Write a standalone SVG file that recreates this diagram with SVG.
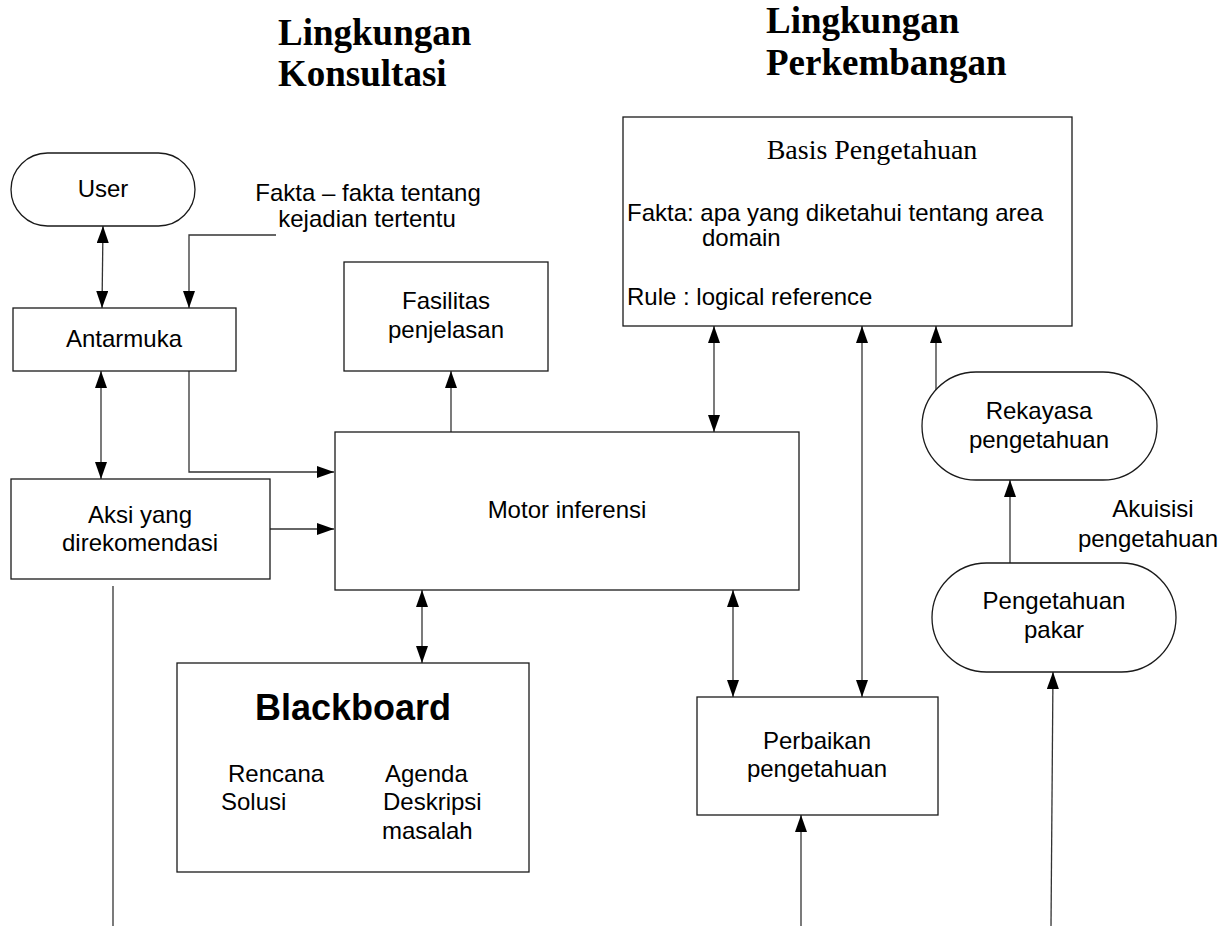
<svg xmlns="http://www.w3.org/2000/svg" width="1232" height="926" viewBox="0 0 1232 926">
<style>
.box{fill:#fff;stroke:#1a1a1a;stroke-width:1.3}
.t{font-family:"Liberation Sans",Arial,sans-serif;font-size:24px;fill:#000}
.m{text-anchor:middle}
.title{font-family:"Liberation Serif","Times New Roman",serif;font-size:37px;font-weight:bold;fill:#000}
.c{fill:none;stroke:#333;stroke-width:1.3}
</style>
<defs>
<marker id="ah" markerUnits="userSpaceOnUse" markerWidth="17" markerHeight="12" refX="17" refY="6" orient="auto-start-reverse">
<path d="M0,0 L17,6 L0,12 z" fill="#000"/>
</marker>
</defs>
<rect width="1232" height="926" fill="#fff"/>

<g id="titles">
<text class="title" x="278" y="45">Lingkungan</text>
<text class="title" x="278" y="86">Konsultasi</text>
<text class="title" x="766" y="33">Lingkungan</text>
<text class="title" x="766" y="75">Perkembangan</text>
</g>

<g id="connectors">
<line class="c" x1="103" y1="226" x2="102" y2="308" marker-start="url(#ah)" marker-end="url(#ah)"/>
<polyline class="c" points="276,235 189,235 189,308" marker-end="url(#ah)"/>
<line class="c" x1="101" y1="371" x2="101" y2="479" marker-start="url(#ah)" marker-end="url(#ah)"/>
<polyline class="c" points="189,371 189,472 334,472" marker-end="url(#ah)"/>
<line class="c" x1="270" y1="529" x2="334" y2="529" marker-end="url(#ah)"/>
<line class="c" x1="451" y1="432" x2="451" y2="371" marker-end="url(#ah)"/>
<line class="c" x1="422" y1="590" x2="422" y2="663" marker-start="url(#ah)" marker-end="url(#ah)"/>
<line class="c" x1="714" y1="326" x2="714" y2="432" marker-start="url(#ah)" marker-end="url(#ah)"/>
<line class="c" x1="862" y1="326" x2="862" y2="697" marker-start="url(#ah)" marker-end="url(#ah)"/>
<line class="c" x1="733" y1="590" x2="733" y2="697" marker-start="url(#ah)" marker-end="url(#ah)"/>
<line class="c" x1="936" y1="390" x2="936" y2="326" marker-end="url(#ah)"/>
<line class="c" x1="1010" y1="563" x2="1010" y2="480" marker-end="url(#ah)"/>
<line class="c" x1="1051" y1="926" x2="1053" y2="672" marker-end="url(#ah)"/>
<line class="c" x1="801" y1="926" x2="801" y2="815" marker-end="url(#ah)"/>
<line class="c" x1="113" y1="586" x2="113" y2="926"/>
</g>

<g id="user">
<rect class="box" x="11" y="153" width="184" height="73" rx="36.5"/>
<text class="t m" x="103" y="197">User</text>
</g>

<g id="fakta-label">
<text class="t m" x="368" y="201">Fakta – fakta tentang</text>
<text class="t m" x="367" y="227">kejadian tertentu</text>
</g>

<g id="antarmuka">
<rect class="box" x="13" y="308" width="223" height="63"/>
<text class="t m" x="124" y="347">Antarmuka</text>
</g>

<g id="aksi">
<rect class="box" x="11" y="479" width="259" height="100"/>
<text class="t m" x="140" y="523">Aksi yang</text>
<text class="t m" x="140" y="551">direkomendasi</text>
</g>

<g id="fasilitas">
<rect class="box" x="344" y="262" width="204" height="109"/>
<text class="t m" x="446" y="309">Fasilitas</text>
<text class="t m" x="446" y="338">penjelasan</text>
</g>

<g id="motor">
<rect class="box" x="335" y="432" width="464" height="158"/>
<text class="t m" x="567" y="518">Motor inferensi</text>
</g>

<g id="blackboard">
<rect class="box" x="177" y="663" width="352" height="209"/>
<text class="t m" x="353" y="720" style="font-size:36px;font-weight:bold">Blackboard</text>
<text class="t" x="228" y="782">Rencana</text>
<text class="t" x="221" y="810">Solusi</text>
<text class="t" x="385" y="782">Agenda</text>
<text class="t" x="383" y="810">Deskripsi</text>
<text class="t" x="382" y="839">masalah</text>
</g>

<g id="basis">
<rect class="box" x="623" y="117" width="449" height="209"/>
<text x="872" y="159" style="font-family:'Liberation Serif','Times New Roman',serif;font-size:28px;text-anchor:middle;fill:#000">Basis Pengetahuan</text>
<text class="t" x="627" y="221">Fakta: apa yang diketahui tentang area</text>
<text class="t" x="702" y="246">domain</text>
<text class="t" x="627" y="305">Rule : logical reference</text>
</g>

<g id="rekayasa">
<rect class="box" x="922" y="372" width="235" height="108" rx="54"/>
<text class="t m" x="1039" y="419">Rekayasa</text>
<text class="t m" x="1039" y="448">pengetahuan</text>
</g>

<g id="akuisisi-label">
<text class="t m" x="1153" y="517">Akuisisi</text>
<text class="t m" x="1148" y="547">pengetahuan</text>
</g>

<g id="pakar">
<rect class="box" x="932" y="563" width="244" height="109" rx="54.5"/>
<text class="t m" x="1054" y="609">Pengetahuan</text>
<text class="t m" x="1054" y="638">pakar</text>
</g>

<g id="perbaikan">
<rect class="box" x="697" y="697" width="241" height="118"/>
<text class="t m" x="817" y="749">Perbaikan</text>
<text class="t m" x="817" y="777">pengetahuan</text>
</g>
</svg>
